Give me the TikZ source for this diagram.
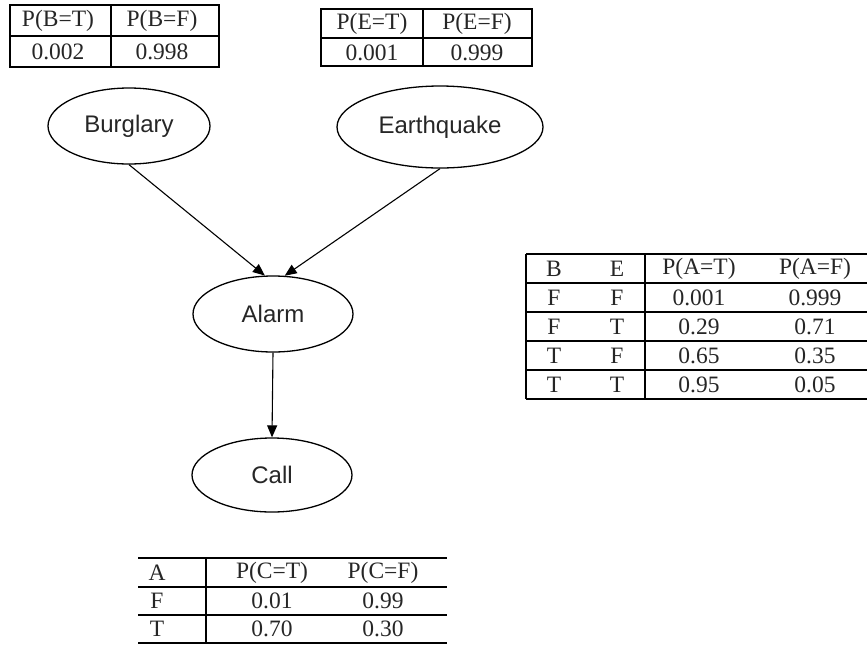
\documentclass[tikz,border=0pt]{standalone}
\usepackage{fontspec}
\setmainfont{Liberation Serif}
\setsansfont{Liberation Sans}
\usetikzlibrary{shapes.geometric,arrows.meta}
\begin{document}
\begin{tikzpicture}[x=1pt,y=-1pt,
  bnode/.style={draw,ellipse,line width=1.3pt,inner sep=0pt,font=\sffamily\fontsize{24}{28}\selectfont,text=black!85},
  cell/.style={inner sep=0pt,font=\fontsize{23.5}{28}\selectfont,text=black!85},
  gridline/.style={line width=1.3pt},
  edge/.style={line width=1.1pt,-{Triangle[length=12pt,width=10pt]}}]
\useasboundingbox (0,0) rectangle (867,646);

% ---- Table B ----
\draw[gridline] (10,5) rectangle (219,67);
\draw[gridline] (10,36) -- (219,36);
\draw[gridline] (111,5) -- (111,67);
\node[cell] (bh1) at (58,21) {P(B=T)};
\node[cell] (bh2) at (162,21) {P(B=F)};
\node[cell] (bv1) at (58,52) {0.002};
\node[cell] (bv2) at (162,52) {0.998};

% ---- Table E ----
\draw[gridline] (321,9) rectangle (532,66);
\draw[gridline] (321,38) -- (532,38);
\draw[gridline] (423,9) -- (423,66);
\node[cell] (eh1) at (372,24) {P(E=T)};
\node[cell] (eh2) at (477,24) {P(E=F)};
\node[cell] (ev1) at (372,52.5) {0.001};
\node[cell] (ev2) at (477,52.5) {0.999};

% ---- Table A ----
\foreach \yy in {254,283,312,341,370,399}{\draw[gridline] (526,\yy) -- (867,\yy);}
\draw[gridline] (526,254) -- (526,399);
\draw[gridline] (645,254) -- (645,399);
\node[cell] (ah1) at (554,268.5) {B};
\node[cell] (ah2) at (617,268.5) {E};
\node[cell] (ah3) at (699,268.5) {P(A=T)};
\node[cell] (ah4) at (815,268.5) {P(A=F)};
\node[cell] (a11) at (554,297.5) {F};
\node[cell] (a12) at (617,297.5) {F};
\node[cell] (a13) at (699,297.5) {0.001};
\node[cell] (a14) at (815,297.5) {0.999};
\node[cell] (a21) at (554,326.5) {F};
\node[cell] (a22) at (617,326.5) {T};
\node[cell] (a23) at (699,326.5) {0.29};
\node[cell] (a24) at (815,326.5) {0.71};
\node[cell] (a31) at (554,355.5) {T};
\node[cell] (a32) at (617,355.5) {F};
\node[cell] (a33) at (699,355.5) {0.65};
\node[cell] (a34) at (815,355.5) {0.35};
\node[cell] (a41) at (554,384.5) {T};
\node[cell] (a42) at (617,384.5) {T};
\node[cell] (a43) at (699,384.5) {0.95};
\node[cell] (a44) at (815,384.5) {0.05};

% ---- Table C ----
\foreach \yy in {558,587,615,643}{\draw[gridline] (138,\yy) -- (447,\yy);}
\draw[gridline] (206,558) -- (206,643);
\node[cell] (ch1) at (157,572.5) {A};
\node[cell] (ch2) at (272,572.5) {P(C=T)};
\node[cell] (ch3) at (383,572.5) {P(C=F)};
\node[cell] (c11) at (157,601) {F};
\node[cell] (c12) at (272,601) {0.01};
\node[cell] (c13) at (383,601) {0.99};
\node[cell] (c21) at (157,629) {T};
\node[cell] (c22) at (272,629) {0.70};
\node[cell] (c23) at (383,629) {0.30};

% ---- Network ----
\node[bnode,minimum width=162pt,minimum height=76pt] (burglary) at (129,126) {Burglary};
\node[bnode,minimum width=206pt,minimum height=82pt] (earthquake) at (440,127) {Earthquake};
\node[bnode,minimum width=160pt,minimum height=76pt] (alarm) at (273,314) {Alarm};
\node[bnode,minimum width=160pt,minimum height=74pt] (call) at (272,475) {Call};

\draw[edge] (burglary.south) -- (alarm.102);
\draw[edge] (earthquake.south) -- (alarm.73);
\draw[edge] (alarm.south) -- (call.north);
\end{tikzpicture}
\end{document}
